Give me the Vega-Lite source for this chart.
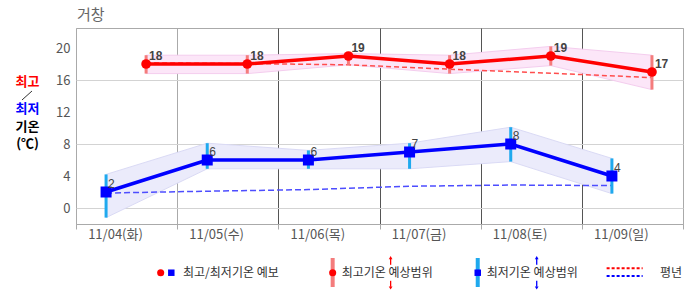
{
  "$schema": "https://vega.github.io/schema/vega-lite/v6.json",
  "width": 607,
  "height": 196,
  "autosize": {"type": "none"},
  "padding": {"left": 76, "top": 28, "right": 3, "bottom": 71},
  "background": "#ffffff",
  "config": {"view": {"stroke": "#aaaaaa", "strokeWidth": 1}, "font": "Noto Sans CJK KR", "axis": {"labelOverlap": false, "labelBound": false}},
  "title": {"text": "거창", "anchor": "start", "frame": "group", "orient": "top", "offset": 5, "fontSize": 15, "fontWeight": "normal", "color": "#666666", "font": "Noto Sans CJK KR", "dx": 1},
  "resolve": {"scale": {"x": "independent", "y": "independent"}, "axis": {"x": "independent", "y": "independent"}},
  "layer": [
    {
      "data": {"values": [
        {"hiTime": "2025-11-04T16:38", "loTime": "2025-11-04T07:08", "hi": 18, "hiMin": 16.8, "hiMax": 19.1, "lo": 2, "loMin": -1.2, "loMax": 4.2, "hiNorm": 18.15, "loNorm": 1.87},
        {"hiTime": "2025-11-05T16:38", "loTime": "2025-11-05T07:08", "hi": 18, "hiMin": 16.8, "hiMax": 19.1, "lo": 6, "loMin": 4.9, "loMax": 8.1, "hiNorm": 18.05, "loNorm": 2.1},
        {"hiTime": "2025-11-06T16:38", "loTime": "2025-11-06T07:08", "hi": 19, "hiMin": 17.9, "hiMax": 19.3, "lo": 6, "loMin": 4.9, "loMax": 7.2, "hiNorm": 17.9, "loNorm": 2.3},
        {"hiTime": "2025-11-07T16:38", "loTime": "2025-11-07T07:08", "hi": 18, "hiMin": 16.8, "hiMax": 19.1, "lo": 7, "loMin": 4.9, "loMax": 8.1, "hiNorm": 17.35, "loNorm": 2.72},
        {"hiTime": "2025-11-08T16:38", "loTime": "2025-11-08T07:08", "hi": 19, "hiMin": 17.8, "hiMax": 20.2, "lo": 8, "loMin": 5.8, "loMax": 10.1, "hiNorm": 16.85, "loNorm": 2.87},
        {"hiTime": "2025-11-09T16:38", "loTime": "2025-11-09T07:08", "hi": 17, "hiMin": 14.8, "hiMax": 19.1, "lo": 4, "loMin": 1.8, "loMax": 6.2, "hiNorm": 16.3, "loNorm": 2.8}
      ]},
      "layer": [
        {
          "mark": {"type": "area", "fill": "#fce6f8", "stroke": "#f4cdee", "strokeWidth": 1},
          "encoding": {
            "x": {"field": "hiTime", "type": "temporal", "title": null,
              "scale": {"domain": [{"year": 2025, "month": 11, "date": 4}, {"year": 2025, "month": 11, "date": 10}], "nice": false},
              "axis": {
                "values": [{"year": 2025, "month": 11, "date": 4}, {"year": 2025, "month": 11, "date": 5}, {"year": 2025, "month": 11, "date": 6}, {"year": 2025, "month": 11, "date": 7}, {"year": 2025, "month": 11, "date": 8}, {"year": 2025, "month": 11, "date": 9}, {"year": 2025, "month": 11, "date": 10}],
                "labelExpr": "date(datum.value) == 10 ? '' : timeFormat(datum.value, '%m/%d') + '(' + ['일','월','화','수','목','금','토'][day(datum.value)] + ')'",
                "labelOffset": 39, "labelAlign": "center", "labelFlush": false, "labelOverlap": false,
                "labelColor": "#555555", "labelFontSize": 13, "labelPadding": -1,
                "tickSize": 5, "tickColor": "#aaaaaa", "domainColor": "#aaaaaa",
                "grid": true,
                "gridColor": {"condition": {"test": "date(datum.value) == 5 || date(datum.value) == 4 || date(datum.value) == 10", "value": "#aaaaaa"}, "value": "#555555"},
                "title": null
              }
            },
            "y": {"field": "hiMin", "type": "quantitative", "title": null,
              "scale": {"domain": [-2, 22.5], "nice": false, "zero": false},
              "axis": {
                "values": [0, 2, 4, 6, 8, 10, 12, 14, 16, 18, 20],
                "grid": true, "gridColor": "#d3d3d3", "ticks": false, "domain": false, "labels": false,
                "title": null
              }
            },
            "y2": {"field": "hiMax"}
          }
        },
        {
          "mark": {"type": "area", "fill": "#ebebfb", "stroke": "#dadaf5", "strokeWidth": 1},
          "encoding": {
            "x": {"field": "loTime", "type": "temporal", "title": null},
            "y": {"field": "loMin", "type": "quantitative", "title": null},
            "y2": {"field": "loMax"}
          }
        },
        {
          "mark": {"type": "line", "color": "#ff4d4d", "strokeWidth": 1.5, "strokeDash": [5, 3]},
          "encoding": {
            "x": {"field": "hiTime", "type": "temporal", "title": null},
            "y": {"field": "hiNorm", "type": "quantitative", "title": null}
          }
        },
        {
          "mark": {"type": "line", "color": "#4d4dff", "strokeWidth": 1.5, "strokeDash": [6, 3]},
          "encoding": {
            "x": {"field": "loTime", "type": "temporal", "title": null},
            "y": {"field": "loNorm", "type": "quantitative", "title": null}
          }
        },
        {
          "mark": {"type": "rule", "color": "#f47c7c", "strokeWidth": 3},
          "encoding": {
            "x": {"field": "hiTime", "type": "temporal", "title": null},
            "y": {"field": "hiMin", "type": "quantitative", "title": null},
            "y2": {"field": "hiMax"}
          }
        },
        {
          "mark": {"type": "rule", "color": "#1fa9ee", "strokeWidth": 3},
          "encoding": {
            "x": {"field": "loTime", "type": "temporal", "title": null},
            "y": {"field": "loMin", "type": "quantitative", "title": null},
            "y2": {"field": "loMax"}
          }
        },
        {
          "mark": {"type": "line", "color": "#ff0000", "strokeWidth": 3.5},
          "encoding": {
            "x": {"field": "hiTime", "type": "temporal", "title": null},
            "y": {"field": "hi", "type": "quantitative", "title": null}
          }
        },
        {
          "mark": {"type": "line", "color": "#0000ff", "strokeWidth": 3.5},
          "encoding": {
            "x": {"field": "loTime", "type": "temporal", "title": null},
            "y": {"field": "lo", "type": "quantitative", "title": null}
          }
        },
        {
          "mark": {"type": "point", "shape": "circle", "filled": true, "color": "#ff0000", "size": 95, "opacity": 1},
          "encoding": {
            "x": {"field": "hiTime", "type": "temporal", "title": null},
            "y": {"field": "hi", "type": "quantitative", "title": null}
          }
        },
        {
          "mark": {"type": "point", "shape": "square", "filled": true, "color": "#0000ff", "size": 121, "opacity": 1},
          "encoding": {
            "x": {"field": "loTime", "type": "temporal", "title": null},
            "y": {"field": "lo", "type": "quantitative", "title": null}
          }
        },
        {
          "mark": {"type": "text", "align": "left", "baseline": "middle", "dx": 3, "dy": -8, "font": "Liberation Sans", "fontWeight": "bold", "fontSize": 12, "color": "#444444"},
          "encoding": {
            "x": {"field": "hiTime", "type": "temporal", "title": null},
            "y": {"field": "hi", "type": "quantitative", "title": null},
            "text": {"field": "hi", "type": "quantitative"}
          }
        },
        {
          "mark": {"type": "text", "align": "left", "baseline": "middle", "dx": 2, "dy": -8, "font": "Liberation Sans", "fontSize": 12, "color": "#444444"},
          "encoding": {
            "x": {"field": "loTime", "type": "temporal", "title": null},
            "y": {"field": "lo", "type": "quantitative", "title": null},
            "text": {"field": "lo", "type": "quantitative"}
          }
        }
      ]
    },
    {
      "encoding": {
        "x": {"field": "u", "type": "quantitative", "scale": {"domain": [0, 6], "nice": false, "zero": false}, "axis": null},
        "y": {"field": "v", "type": "quantitative", "scale": {"domain": [-2, 22.5], "nice": false, "zero": false},
          "axis": {"orient": "left", "values": [0, 4, 8, 12, 16, 20], "labelOverlap": false, "labelBound": false, "labelFlush": false, "labelColor": "#555555", "labelFontSize": 13, "labelPadding": 6, "ticks": false, "domain": false, "grid": false, "title": null}}
      },
      "layer": [
        {
          "data": {"values": [{"u": 2.537, "v": -6.25, "v2": -9.875}]},
          "mark": {"type": "rule", "color": "#f47c7c", "strokeWidth": 4},
          "encoding": {"y2": {"field": "v2"}}
        },
        {
          "data": {"values": [{"u": 3.971, "v": -6.25, "v2": -9.875}]},
          "mark": {"type": "rule", "color": "#1fa9ee", "strokeWidth": 4},
          "encoding": {"y2": {"field": "v2"}}
        },
        {
          "data": {"values": [{"u": 0.837, "v": -8.09}, {"u": 2.537, "v": -8.09}]},
          "mark": {"type": "point", "shape": "circle", "filled": true, "color": "#ff0000", "size": 50, "opacity": 1},
          "encoding": {}
        },
        {
          "data": {"values": [{"u": 0.942, "v": -8.09}, {"u": 3.971, "v": -8.09}]},
          "mark": {"type": "point", "shape": "square", "filled": true, "color": "#0000ff", "size": 42, "opacity": 1},
          "encoding": {}
        },
        {
          "data": {"values": [
            {"u": 1.058, "v": -8.09, "t": "최고/최저기온 예보"},
            {"u": 2.626, "v": -8.09, "t": "최고기온 예상범위"},
            {"u": 4.06, "v": -8.09, "t": "최저기온 예상범위"},
            {"u": 5.772, "v": -8.09, "t": "평년"}
          ]},
          "mark": {"type": "text", "align": "left", "baseline": "middle", "fontSize": 12, "color": "#333333", "font": "Noto Sans CJK KR"},
          "encoding": {"text": {"field": "t"}}
        },
        {
          "data": {"values": [
            {"u": 3.11, "v": -6.35, "v2": -7.1, "tone": "hi"},
            {"u": 3.11, "v": -9.1, "v2": -9.85, "tone": "hi"},
            {"u": 4.554, "v": -6.35, "v2": -7.1, "tone": "lo"},
            {"u": 4.554, "v": -9.1, "v2": -9.85, "tone": "lo"}
          ]},
          "mark": {"type": "rule", "strokeWidth": 1.3},
          "encoding": {
            "y2": {"field": "v2"},
            "color": {"field": "tone", "type": "nominal", "scale": {"domain": ["hi", "lo", "plain"], "range": ["#ff0000", "#0000ff", "#000000"]}, "legend": null}
          }
        },
        {
          "data": {"values": [{"u": 3.11, "v": -6.2, "tone": "hi"}, {"u": 4.554, "v": -6.2, "tone": "lo"}]},
          "mark": {"type": "point", "shape": "triangle-up", "filled": true, "size": 14, "opacity": 1},
          "encoding": {
            "color": {"field": "tone", "type": "nominal", "legend": null}
          }
        },
        {
          "data": {"values": [{"u": 3.11, "v": -10.0, "tone": "hi"}, {"u": 4.554, "v": -10.0, "tone": "lo"}]},
          "mark": {"type": "point", "shape": "triangle-down", "filled": true, "size": 14, "opacity": 1},
          "encoding": {
            "color": {"field": "tone", "type": "nominal", "legend": null}
          }
        },
        {
          "data": {"values": [
            {"u": 5.245, "v": -7.54, "tone": "hi"}, {"u": 5.601, "v": -7.54, "tone": "hi"},
            {"u": 5.245, "v": -8.5, "tone": "lo"}, {"u": 5.601, "v": -8.5, "tone": "lo"}
          ]},
          "mark": {"type": "line", "strokeWidth": 2, "strokeDash": [3, 2]},
          "encoding": {
            "color": {"field": "tone", "type": "nominal", "legend": null},
            "detail": {"field": "tone"}
          }
        },
        {
          "data": {"values": [
            {"u": -0.479, "v": 15.79, "t": "최고", "tone": "hi"},
            {"u": -0.479, "v": 12.375, "t": "최저", "tone": "lo"},
            {"u": -0.479, "v": 10.16, "t": "기온", "tone": "plain"},
            {"u": -0.479, "v": 8.0, "t": "(℃)", "tone": "plain"}
          ]},
          "mark": {"type": "text", "align": "center", "baseline": "middle", "fontSize": 13, "fontWeight": "bold", "font": "Noto Sans CJK KR"},
          "encoding": {
            "text": {"field": "t"},
            "color": {"field": "tone", "type": "nominal", "legend": null}
          }
        },
        {
          "data": {"values": [{"u": -0.534, "u2": -0.435, "v": 13.5, "v2": 14.625}]},
          "mark": {"type": "rule", "color": "#333333", "strokeWidth": 1},
          "encoding": {"x2": {"field": "u2"}, "y2": {"field": "v2"}}
        }
      ]
    }
  ]
}
